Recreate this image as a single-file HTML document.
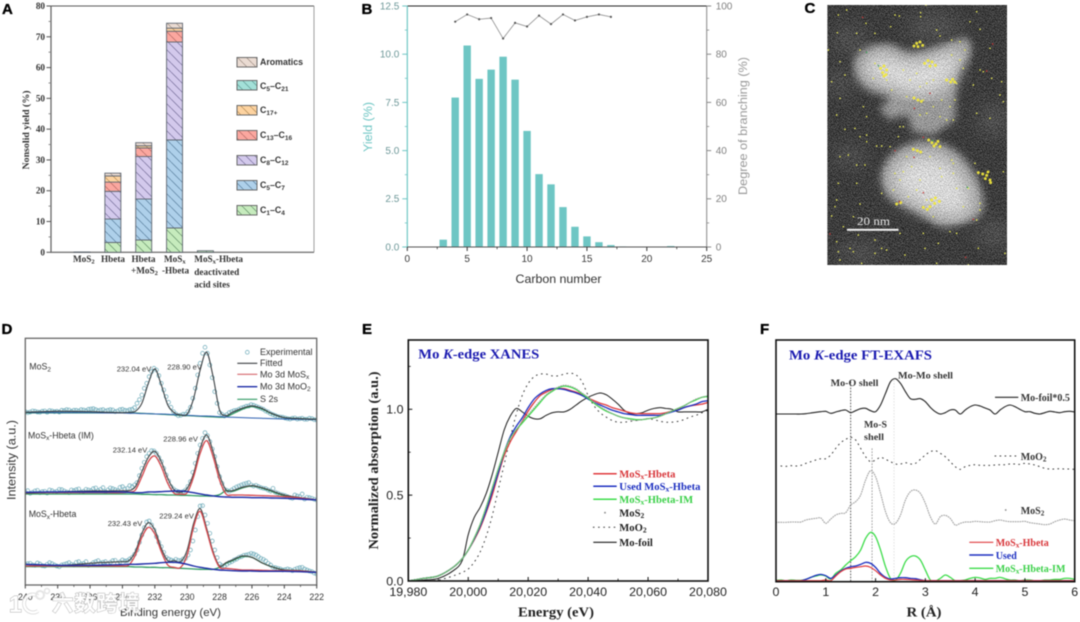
<!DOCTYPE html>
<html lang="en">
<head>
<meta charset="utf-8">
<title>MoSx-Hbeta catalyst characterisation figure</title>
<style>
  html,body{margin:0;padding:0;background:#fff;width:1080px;height:622px;overflow:hidden}
  svg{display:block}
  #art{filter:blur(.42px)}
  text{font-family:"Liberation Sans",sans-serif;fill:#222}
  .serif{font-family:"Liberation Serif",serif;font-weight:700}
  .plabel{font-size:15px;font-weight:700;fill:#000;stroke:#000;stroke-width:.35}
  .ta{font-size:9.2px;fill:#333}
  .tb{font-size:10px}
  .td{font-size:8.8px;fill:#333}
  .te{font-size:12.4px;fill:#222}
  .lgE{font-size:10.6px}
</style>
</head>
<body>
<svg id="figure" width="1080" height="622" viewBox="0 0 1080 622">
<defs>
  <pattern id="h-green" patternUnits="userSpaceOnUse" width="9" height="9"><rect width="9" height="9" fill="#c6ebbd"/><path d="M-1,-1L10,10" stroke="#4d7a55" stroke-width=".6"/></pattern>
  <pattern id="h-blue" patternUnits="userSpaceOnUse" width="9" height="9"><rect width="9" height="9" fill="#aed0ea"/><path d="M-1,-1L10,10" stroke="#466c8c" stroke-width=".6"/></pattern>
  <pattern id="h-purple" patternUnits="userSpaceOnUse" width="9" height="9"><rect width="9" height="9" fill="#d3c9ec"/><path d="M-1,-1L10,10" stroke="#5f5885" stroke-width=".6"/></pattern>
  <pattern id="h-red" patternUnits="userSpaceOnUse" width="9" height="9"><rect width="9" height="9" fill="#fba79f"/><path d="M-1,-1L10,10" stroke="#a45a55" stroke-width=".6"/></pattern>
  <pattern id="h-orange" patternUnits="userSpaceOnUse" width="9" height="9"><rect width="9" height="9" fill="#fdd3a0"/><path d="M-1,-1L10,10" stroke="#a07a45" stroke-width=".6"/></pattern>
  <pattern id="h-teal" patternUnits="userSpaceOnUse" width="9" height="9"><rect width="9" height="9" fill="#a3e0d8"/><path d="M-1,-1L10,10" stroke="#4d8a84" stroke-width=".6"/></pattern>
  <pattern id="h-tan" patternUnits="userSpaceOnUse" width="9" height="9"><rect width="9" height="9" fill="#eadbd2"/><path d="M-1,-1L10,10" stroke="#8a7a70" stroke-width=".6"/></pattern>
  <filter id="noise" x="0" y="0" width="100%" height="100%"><feTurbulence type="fractalNoise" baseFrequency="1.1" numOctaves="2" seed="7"/><feColorMatrix values="4 0 0 0 -1.7 4 0 0 0 -1.7 4 0 0 0 -1.7 0 0 0 0 .3"/></filter>
  <filter id="blur9"><feGaussianBlur stdDeviation="12"/></filter>
  <filter id="blur30"><feGaussianBlur stdDeviation="26"/></filter>
  <clipPath id="clipC"><rect x="827.3" y="5" width="179.7" height="260"/></clipPath>
  <clipPath id="clipE"><rect x="408.3" y="340" width="299.7" height="241"/></clipPath>
  <clipPath id="clipF"><rect x="776" y="340" width="298.7" height="241.7"/></clipPath>
  <clipPath id="clipD"><rect x="25.3" y="338.3" width="291.4" height="246.7"/></clipPath>
</defs>
<g id="art">

<g id="panelA">
  <text class="plabel" x="2" y="14">A</text>
  <text class="serif" font-size="9" text-anchor="middle" transform="translate(29,130) rotate(-90)" textLength="79" lengthAdjust="spacingAndGlyphs" style="fill:#333">Nonsolid yield (%)</text>
  <g class="serif">
    <text class="serif ta" x="73" y="262">MoS<tspan dy="1.5" font-size="6.5">2</tspan></text>
    <text class="serif ta" x="101" y="262">Hbeta</text>
    <text class="serif ta" x="131.5" y="262">Hbeta</text>
    <text class="serif ta" x="131" y="273.5">+MoS<tspan dy="1.5" font-size="6.5">2</tspan></text>
    <text class="serif ta" x="164" y="262">MoS<tspan dy="1.5" font-size="6.5">x</tspan></text>
    <text class="serif ta" x="162" y="273.5">-Hbeta</text>
    <text class="serif ta" x="194.3" y="262">MoS<tspan dy="1.5" font-size="6.5">x</tspan><tspan dy="-1.5">-Hbeta</tspan></text>
    <text class="serif ta" x="194.3" y="275">deactivated</text>
    <text class="serif ta" x="194.3" y="287.5">acid sites</text>
  </g>
  <g>
    <rect x="237" y="57.5" width="20" height="9.5" fill="url(#h-tan)" stroke="#6a6a6a"/>
    <text x="260" y="65" font-size="8.8" font-weight="700" style="fill:#333">Aromatics</text>
    <rect x="237" y="80.5" width="20" height="9.5" fill="url(#h-teal)" stroke="#6a6a6a"/>
    <text x="260" y="89" font-size="8.8" font-weight="700" style="fill:#333">C<tspan dy="2" font-size="6.5">5</tspan><tspan dy="-2">–C</tspan><tspan dy="2" font-size="6.5">21</tspan></text>
    <rect x="237" y="105.5" width="20" height="9.5" fill="url(#h-orange)" stroke="#6a6a6a"/>
    <text x="260" y="113" font-size="8.8" font-weight="700" style="fill:#333">C<tspan dy="2" font-size="6.5">17+</tspan></text>
    <rect x="237" y="130.5" width="20" height="9.5" fill="url(#h-red)" stroke="#6a6a6a"/>
    <text x="260" y="138" font-size="8.8" font-weight="700" style="fill:#333">C<tspan dy="2" font-size="6.5">13</tspan><tspan dy="-2">–C</tspan><tspan dy="2" font-size="6.5">16</tspan></text>
    <rect x="237" y="155.5" width="20" height="9.5" fill="url(#h-purple)" stroke="#6a6a6a"/>
    <text x="260" y="163" font-size="8.8" font-weight="700" style="fill:#333">C<tspan dy="2" font-size="6.5">8</tspan><tspan dy="-2">–C</tspan><tspan dy="2" font-size="6.5">12</tspan></text>
    <rect x="237" y="180.5" width="20" height="9.5" fill="url(#h-blue)" stroke="#6a6a6a"/>
    <text x="260" y="188" font-size="8.8" font-weight="700" style="fill:#333">C<tspan dy="2" font-size="6.5">5</tspan><tspan dy="-2">–C</tspan><tspan dy="2" font-size="6.5">7</tspan></text>
    <rect x="237" y="205.5" width="20" height="9.5" fill="url(#h-green)" stroke="#6a6a6a"/>
    <text x="260" y="213" font-size="8.8" font-weight="700" style="fill:#333">C<tspan dy="2" font-size="6.5">1</tspan><tspan dy="-2">–C</tspan><tspan dy="2" font-size="6.5">4</tspan></text>
  </g>
</g>

<g id="panelB">
  <text class="plabel" x="361.5" y="14">B</text>
  <text x="558.5" y="283" font-size="12.2" text-anchor="middle" textLength="86" lengthAdjust="spacingAndGlyphs" style="fill:#333">Carbon number</text>
  <text font-size="12.4" text-anchor="middle" transform="translate(372,127) rotate(-90)" textLength="50" lengthAdjust="spacingAndGlyphs" style="fill:#6fc6c4">Yield (%)</text>
  <text font-size="12.4" text-anchor="middle" transform="translate(747,126) rotate(-90)" textLength="138" lengthAdjust="spacingAndGlyphs" style="fill:#9a9a9a">Degree of branching (%)</text>
</g>

<g id="panelC">
  <text class="plabel" x="804.5" y="13">C</text>
  <g clip-path="url(#clipC)">
    <rect x="827.3" y="5" width="179.7" height="260" fill="#1f1f1f"/>
    <g transform="translate(760,0) scale(.33333)">
      <g filter="url(#blur30)" fill="#3c3c3c">
        <ellipse cx="270" cy="470" rx="50" ry="30"/><ellipse cx="240" cy="250" rx="40" ry="35"/><ellipse cx="700" cy="360" rx="45" ry="50"/><ellipse cx="520" cy="80" rx="80" ry="40"/><ellipse cx="700" cy="700" rx="50" ry="40"/><ellipse cx="300" cy="760" rx="70" ry="30"/><ellipse cx="270" cy="120" rx="50" ry="40"/>
      </g>
      <path filter="url(#blur9)" fill="#a2a2a2" d="M282,190C288,150 350,125 395,135C420,145 432,160 450,160C500,160 560,130 615,110C645,130 640,175 600,205L590,250L585,360L520,405L455,395L445,345L385,358L358,325L395,290L325,270C300,250 280,225 282,190Z"/>
      <path filter="url(#blur9)" fill="#a6a6a6" d="M362,530C368,480 410,440 470,422C540,412 600,450 635,510C668,560 682,610 664,642C620,672 570,688 530,678C490,640 420,620 385,592C370,570 360,550 362,530Z"/>
      <path filter="url(#blur30)" fill="#fdfdfd" d="M305,195C330,150 400,150 430,185C480,180 550,165 605,140C615,190 580,250 540,275C500,295 450,290 410,270C370,260 305,240 305,195Z"/>
      <path filter="url(#blur30)" fill="#fdfdfd" d="M395,520C420,470 500,440 565,480C620,530 655,600 620,650C570,660 520,640 480,620C440,600 385,570 395,520Z"/>
    </g>
    <rect x="827.3" y="5" width="179.7" height="260" filter="url(#noise)"/>
    <g transform="translate(760,0) scale(.33333)">
      <path fill="none" stroke="#e9e956" stroke-width="5" stroke-linecap="round" d="M235,45h0M260,30h0M318,70h0M345,100h0M290,100h0M232,98h0M205,150h0M240,185h0M392,80h0M405,45h0M418,48h0M482,38h0M482,50h0M498,15h0M530,90h0M540,108h0M650,35h0M630,65h0M660,88h0M690,145h0M670,215h0M660,210h0M695,235h0M725,245h0M720,285h0M730,305h0M650,340h0M690,355h0M590,250h0M640,255h0M610,205h0M300,150h0M340,235h0M215,245h0M255,225h0M240,295h0M230,345h0M310,320h0M320,350h0M255,388h0M285,385h0M300,410h0M320,405h0M320,425h0M350,438h0M365,438h0M390,440h0M430,380h0M415,410h0M420,380h0M240,470h0M265,465h0M290,495h0M315,495h0M235,550h0M290,550h0M365,580h0M230,600h0M300,612h0M225,620h0M215,648h0M250,680h0M280,650h0M295,705h0M230,725h0M345,720h0M235,755h0M240,780h0M270,745h0M280,755h0M365,745h0M380,750h0M305,790h0M345,760h0M420,700h0M435,765h0M490,700h0M495,745h0M535,730h0M570,695h0M590,700h0M530,790h0M625,795h0M655,745h0M735,760h0M650,660h0M730,515h0M645,490h0M580,520h0M405,520h0M430,515h0M400,570h0M470,570h0M500,600h0M540,505h0M580,490h0M590,565h0M625,565h0M660,610h0M660,630h0M345,190h0M380,240h0M395,270h0M430,210h0M450,240h0M470,220h0M500,250h0M520,240h0M480,260h0M440,290h0M490,300h0M520,320h0M545,300h0M570,320h0M585,300h0M540,350h0M500,340h0M480,345h0M560,360h0M580,360h0M575,120h0M600,125h0M615,150h0M575,165h0M600,180h0M440,470h0M455,500h0M510,470h0M575,480h0M545,530h0M480,540h0M420,540h0M445,590h0M520,650h0M610,620h0"/>
      <path fill="none" stroke="#f2e83c" stroke-width="9" stroke-linecap="round" opacity=".92" d="M362,205h0M372,198h0M380,210h0M368,218h0M378,224h0M372,228h0M462,138h0M470,130h0M480,126h0M488,136h0M474,140h0M494,190h0M504,182h0M516,186h0M526,196h0M510,198h0M560,240h0M572,246h0M584,246h0M578,238h0M462,294h0M474,300h0M484,304h0M506,420h0M516,428h0M528,432h0M540,440h0M522,438h0M534,424h0M460,448h0M472,452h0M482,456h0M655,518h0M668,522h0M680,526h0M690,540h0M676,536h0M684,516h0M692,548h0M515,600h0M526,594h0M538,604h0M524,610h0M490,622h0M502,628h0M510,620h0M410,612h0M422,608h0"/>
      <path fill="none" stroke="#c23a3a" stroke-width="5" stroke-linecap="round" d="M308,52h0M698,132h0M680,213h0M510,280h0M463,325h0M490,412h0M405,452h0M462,472h0M490,578h0M418,605h0M640,658h0M617,772h0M210,702h0"/>
      <path fill="none" stroke="#3fa05a" stroke-width="5" stroke-linecap="round" d="M320,157h0M355,197h0M622,562h0M518,422h0"/>
    </g>
  </g>
  <rect x="847" y="228.8" width="51.5" height="2" fill="#f2f2f2"/>
  <text class="serif" x="857" y="225" font-size="11.5" style="font-weight:400;fill:#e4e4e4" textLength="33" lengthAdjust="spacingAndGlyphs">20 nm</text>
</g>

<g id="panelD">
  <text class="plabel" x="1.5" y="334">D</text>
  <text font-size="12.4" text-anchor="middle" transform="translate(15.5,460) rotate(-90)" textLength="80" lengthAdjust="spacingAndGlyphs" style="fill:#333">Intensity (a.u.)</text>
  <text x="170.5" y="616" font-size="11.4" text-anchor="middle" textLength="101" lengthAdjust="spacingAndGlyphs" style="fill:#333">Binding energy (eV)</text>
</g>

<g id="panelE">
  <text class="plabel" x="362" y="334">E</text>
  <text class="serif" x="556" y="616.5" font-size="13.5" text-anchor="middle" textLength="76" lengthAdjust="spacingAndGlyphs">Energy (eV)</text>
  <text class="serif" font-size="13.5" text-anchor="middle" transform="translate(378,460.5) rotate(-90)" textLength="178" lengthAdjust="spacingAndGlyphs">Normalized absorption (a.u.)</text>
</g>

<g id="panelF">
  <text class="plabel" x="760" y="334">F</text>
  <text class="serif" x="924" y="616.5" font-size="13.5" text-anchor="middle" textLength="35" lengthAdjust="spacingAndGlyphs">R (Å)</text>
</g>

<g id="watermark" opacity=".95">
  <text x="9" y="612" font-size="23" font-weight="700" style="fill:#fff;stroke:#a8a8a8;stroke-width:.9;paint-order:stroke">1</text>
  <path d="M38,596A9,9 0 1 0 38,611" fill="none" stroke="#c0c0c0" stroke-width="3.6"/>
  <path d="M38,596A9,9 0 1 0 38,611" fill="none" stroke="#fff" stroke-width="2.6"/>
  <circle cx="40" cy="595" r="4" fill="none" stroke="#e4e4e4" stroke-width="2"/>
  <circle cx="47" cy="591" r="2.5" fill="none" stroke="#e4e4e4" stroke-width="1.5"/>
  <text x="52" y="611" font-size="21.5" textLength="88" style="font-family:'Liberation Sans','Noto Sans CJK SC',sans-serif;font-weight:700;fill:#fff;stroke:#a8a8a8;stroke-width:.9;paint-order:stroke">六数跨境</text>
</g>
</g>
</svg>

<script>
/* ---------- Panel A data ---------- */
const aCategories = ["MoS2","Hbeta","Hbeta+MoS2","MoSx-Hbeta","MoSx-Hbeta deactivated"];
const aTicks = [0,10,20,30,40,50,60,70,80];
const aC1C4 = [0.1,3.2,4.0,7.9,0.5];
const aC5C7 = [0,7.6,13.3,28.6,0];
const aC8C12 = [0,9.0,13.8,31.8,0];
const aC13C16 = [0,3.0,2.8,3.5,0];
const aC17 = [0,2.0,0.7,1.0,0];
const aC5C21 = [0,0,0,0,0];
const aAromatics = [0,0.9,1.0,1.6,0];

/* ---------- Panel B data ---------- */
const bCarbon = [3,4,5,6,7,8,9,10,11,12,13,14,15,16,17,18,22];
const bYield = [0.38,7.75,10.45,8.72,9.2,9.87,8.68,6.02,3.78,3.25,2.07,1.05,0.55,0.25,0.1,0.03,0.05];
const bBranchCarbon = [4,5,6,7,8,9,10,11,12,13,14,15,16,17];
const bBranching = [93.5,96.5,94.5,95,86.5,93,91.5,96,92.5,96.5,94,95.5,96.5,95.5];
const bXTicks = [0,5,10,15,20,25];
const bYTicks = ["0.0","2.5","5.0","7.5","10.0","12.5"];
const bRightTicks = [0,20,40,60,80,100];

/* ---------- Panel D data (arbitrary intensity units) ---------- */
const dEnergy = [240,238,236,235,234,233.6,233.2,232.8,232.4,232,231.6,231.2,230.8,230.4,230,229.6,229.2,228.8,228.4,228,227.6,227.2,226.6,226,225.4,224.8,224,223,222];
const dTicks = [240,238,236,234,232,230,228,226,224,222];
const d1Fit = [518,521,520,518,517,518,521,545,605,648,600,540,517,510,513,560,645,698,625,525,508,518,530,537,530,515,502,499,497];
const d1Green = [516,516,516,516,516,516,516,515,514,513,512,511,510,509,508,507,506,505,504,503,504,513,527,535,528,514,502,499,497];
const d1Blue = [517,517,517,516,516,515,515,514,514,513,513,512,511,510,509,508,507,507,506,505,504,503,502,501,500,499,498,497,496];
const d2Fit = [275,279,282,282,283,283,295,340,383,401,370,320,285,278,290,335,410,450,400,330,285,283,293,298,292,283,270,262,255];
const d2Red = [277,277,277,277,277,279,285,325,370,387,355,305,275,273,277,325,395,433,385,315,273,270,270,269,268,267,265,261,255];
const d2Blue = [278,279,279,279,279,278,277,277,279,279,280,281,282,282,280,277,273,270,267,265,264,263,263,262,262,261,260,258,255];
const d2Green = [273,273,273,273,273,273,273,272,272,271,271,270,270,269,269,268,267,267,267,271,283,281,291,297,291,281,268,260,255];
const d3Fit = [62,58,65,68,70,73,100,155,187,165,110,73,73,70,105,185,229,170,100,57,67,75,87,83,67,55,45,43,38];
const d3Red = [57,57,57,57,57,60,90,143,173,153,100,60,53,53,90,175,221,163,95,53,50,48,45,45,44,43,43,42,38];
const d3Blue = [62,59,59,60,61,62,62,63,64,65,67,68,68,66,62,57,53,50,47,45,44,43,42,42,41,41,41,40,38];
const d3Green = [55,55,55,55,55,55,54,54,53,53,52,52,51,50,49,48,47,47,47,53,65,73,85,83,67,55,45,43,38];
const d1Exp = [520,519,521,518,522,523,520,519,523,525,524,522,525,527,529,523,526,524,525,522,527,523,527,545,570,605,640,645,605,565,533,513,509,512,533,590,665,713,660,580,517,507,517,523,527,533,537,539,533,527,519,511,505,503,499,500,498,500,497,499,495];
const d2Exp = [279,275,282,277,281,285,279,287,282,277,283,288,281,285,289,283,292,285,289,283,295,290,295,307,350,385,403,395,370,330,295,283,277,285,310,365,420,457,430,385,325,287,281,290,297,303,307,297,295,290,285,290,275,270,265,260,267,273,263,260,255];
const d3Exp = [62,65,59,63,57,67,60,55,62,67,60,70,65,59,67,73,68,63,73,65,75,73,83,105,150,189,180,145,115,83,75,77,73,80,105,165,237,210,155,105,63,57,67,75,83,89,92,93,85,77,65,53,50,45,48,43,50,53,45,40,33];
const d1ExpMid = [517,522,519,521,518,522,521,524,526,521,524,526,523,528,526,525,522,526,520,526,524,526,532,556,590,625,650,628,585,548,520,508,512,520,560,630,695,695,622,545,512,511,520,524,531,536,541,536,530,522,514,508,504,501,498,501,499,497,500,496];
const d2ExpMid = [283,278,284,280,276,283,281,286,279,285,286,279,287,283,291,287,280,291,286,293,288,298,300,328,368,395,402,382,350,312,288,280,280,296,338,395,440,448,408,355,305,284,285,294,300,305,300,299,292,289,282,278,272,268,262,270,265,258,262,257];
const d3ExpMid = [64,60,66,58,62,64,57,60,64,62,68,63,70,62,70,66,70,68,74,69,72,78,92,128,172,192,165,128,98,78,72,74,78,90,132,205,238,185,132,82,58,62,70,78,85,90,95,90,80,72,60,52,48,46,46,47,52,48,42,36];

/* ---------- Panel E data ---------- */
const eEnergy = [19980,19985,19990,19995,19998,20000,20002,20004,20006,20008,20010,20012,20014,20016,20018,20020,20022,20024,20026,20028,20030,20032,20034,20036,20038,20040,20042,20044,20046,20048,20050,20052,20054,20056,20058,20060,20062,20064,20066,20068,20070,20072,20074,20076,20078,20080];
const eXTicks = ["19,980","20,000","20,020","20,040","20,060","20,080"];
const eYTicks = ["0.0","0.5","1.0"];
const eRed = [0,.015,.03,.08,.13,.18,.24,.31,.40,.50,.62,.73,.81,.87,.93,.99,1.04,1.08,1.10,1.115,1.12,1.12,1.11,1.10,1.085,1.065,1.05,1.035,1.025,1.01,1.0,.99,.98,.975,.975,.975,.975,.975,.98,.99,1.0,1.01,1.02,1.025,1.03,1.04];
const eBlue = [0,.015,.03,.08,.13,.18,.245,.32,.41,.52,.63,.75,.84,.90,.95,1.01,1.06,1.09,1.11,1.12,1.12,1.115,1.105,1.095,1.08,1.06,1.04,1.025,1.01,.995,.985,.975,.97,.965,.965,.965,.965,.965,.975,.985,.995,1.01,1.02,1.03,1.045,1.05];
const eGreen = [0,.015,.03,.08,.13,.18,.25,.33,.43,.54,.65,.75,.83,.88,.92,.96,1.0,1.04,1.08,1.105,1.125,1.135,1.13,1.115,1.09,1.065,1.035,1.01,.99,.975,.96,.95,.945,.94,.94,.945,.95,.96,.975,.99,1.005,1.02,1.04,1.055,1.07,1.075];
const eMoS2 = [0,.015,.03,.08,.13,.18,.25,.33,.43,.54,.65,.75,.83,.88,.93,.97,1.01,1.05,1.085,1.11,1.13,1.14,1.135,1.12,1.095,1.07,1.04,1.015,.995,.975,.96,.95,.94,.935,.94,.945,.95,.96,.975,.99,1.005,1.02,1.04,1.06,1.07,1.08];
const eMoO2 = [0,0,.005,.03,.05,.07,.11,.17,.26,.38,.53,.68,.83,.97,1.08,1.15,1.19,1.205,1.205,1.195,1.195,1.205,1.21,1.2,1.16,1.08,1.02,.98,.955,.935,.925,.925,.93,.935,.94,.945,.94,.93,.925,.925,.93,.94,.955,.965,.98,.995];
const eFoil = [0,.005,.015,.06,.12,.27,.37,.43,.51,.62,.75,.88,.96,1.005,.985,.96,.945,.945,.965,.98,.985,.985,1.0,1.025,1.05,1.07,1.085,1.095,1.085,1.06,1.03,.995,.975,.975,.98,.995,1.005,1.01,1.005,1.0,.985,.985,.985,.985,.985,1.0];

/* ---------- Panel F data (arbitrary units) ---------- */
const fR = [0,.1,.2,.3,.4,.5,.6,.7,.8,.9,1,1.1,1.2,1.3,1.4,1.5,1.6,1.7,1.8,1.9,2,2.1,2.2,2.3,2.4,2.5,2.6,2.7,2.8,2.9,3,3.1,3.2,3.3,3.4,3.5,3.6,3.7,3.8,3.9,4,4.1,4.2,4.3,4.4,4.5,4.6,4.7,4.8,4.9,5,5.1,5.2,5.3,5.4,5.5,5.6,5.7,5.8,5.9,6];
const fTicks = [0,1,2,3,4,5,6];
const fFoil = [503,503,503,503,503,503,504,506,508,510,511,505,509,513,515,507,513,519,520,513,510,530,565,600,609,595,570,549,547,549,540,523,510,503,507,515,515,503,515,525,530,527,521,515,503,515,525,530,525,517,510,510,505,503,507,511,509,507,510,511,509];
const fMoO2 = [347,347,346,348,347,349,355,360,365,369,369,380,400,417,427,433,425,400,375,360,365,373,367,360,353,353,357,353,355,367,380,390,393,385,375,360,345,337,345,349,351,349,349,349,350,351,351,353,353,352,355,353,350,345,340,338,338,339,338,338,337];
const fMoS2 = [178,178,178,179,179,179,185,188,190,191,175,188,200,205,207,230,240,260,305,333,315,265,210,177,175,200,245,270,275,265,235,195,173,195,199,190,170,175,179,179,181,180,179,179,183,185,182,180,180,180,181,177,175,173,171,173,180,185,188,185,183];
const fGreen = [4,5,3,5,4,4,7,13,17,20,17,8,25,35,50,63,75,95,130,148,135,95,45,10,5,25,60,75,77,65,35,5,2,10,20,13,3,3,5,10,13,11,7,10,10,13,9,5,5,3,5,5,3,3,5,5,7,7,10,10,7];
const fBlue = [3,3,3,3,3,3,7,13,19,22,18,10,20,32,40,45,47,52,58,55,43,25,13,8,10,12,12,10,9,6,3,3,3,3,3,3,3,3,3,3,3,3,3,3,3,3,3,3,3,3,3,3,3,3,3,3,3,3,3,3,3];
const fRed = [3,3,3,3,3,3,3,3,3,3,5,3,17,30,38,40,43,45,47,43,33,20,10,5,5,7,7,6,5,4,3,3,3,3,3,3,3,3,3,3,3,3,3,3,3,3,3,3,3,3,3,3,3,3,3,3,3,3,3,3,3];

/* ---------- helpers ---------- */
const svg = document.getElementById('figure');
const NS = svg.namespaceURI;
function make(tag, attrs, parent){
  const n = document.createElementNS(NS, tag);
  for (const k in attrs) n.setAttribute(k, attrs[k]);
  parent.appendChild(n);
  return n;
}
function seg(parent, x1, y1, x2, y2, stroke, w, name){
  const l = make('line', {x1:x1, y1:y1, x2:x2, y2:y2, stroke:stroke, 'stroke-width':w}, parent);
  
  
  return l;
}
function label(parent, x, y, str, anchor, cls, fill, name){
  const t = make('text', {x:x, y:y, 'text-anchor':anchor, 'class':cls}, parent);
  if (fill) t.style.fill = fill;
  t.textContent = str;
  
  
  return t;
}
function smooth(xs, ys, fx, fy){
  let d = '';
  const p = xs.map((x,i)=>[fx(x), fy(ys[i])]);
  for (let i=0;i<p.length;i++){
    if (i===0){ d += 'M'+p[0][0].toFixed(2)+','+p[0][1].toFixed(2); continue; }
    const a=p[Math.max(i-2,0)], b=p[i-1], c=p[i], e=p[Math.min(i+1,p.length-1)];
    const c1x=b[0]+(c[0]-a[0])/6, c1y=b[1]+(c[1]-a[1])/6, c2x=c[0]-(e[0]-b[0])/6, c2y=c[1]-(e[1]-b[1])/6;
    d += 'C'+c1x.toFixed(2)+','+c1y.toFixed(2)+' '+c2x.toFixed(2)+','+c2y.toFixed(2)+' '+c[0].toFixed(2)+','+c[1].toFixed(2);
  }
  return d;
}
function curve(parent, xs, ys, fx, fy, stroke, w, dash, name){
  const a = {d:smooth(xs,ys,fx,fy), fill:'none', stroke:stroke, 'stroke-width':w, 'stroke-linejoin':'round'};
  if (dash){ a['stroke-dasharray']=dash; a['stroke-linecap']='round'; }
  const c = make('path', a, parent);
  
  
  return c;
}

/* ---------- Panel A ---------- */
(function(){
  const g = document.getElementById('panelA');
  const L=51, R=314, T=6, B=252.3;
  const x = i => 82 + 30.85*i;
  const y = v => B - v*(B-T)/80;
  seg(g,L,T,R,T,'#222',.8,'plot-top-border');
  seg(g,R,T,R,B,'#888',.8,'plot-right-border');
  seg(g,L,T,L,B+.6,'#666',1.3,'y-axis-line');
  seg(g,L,B,R,B,'#777',1.3,'x-axis-line');
  aTicks.forEach(v=>{
    seg(g,L-4.5,y(v),L,y(v),'#555',1,'y-major-tick');
    label(g,L-6,y(v)+3,String(v),'end','serif ta',null,'y-tick-label');
    if (v<80) seg(g,L-2.5,y(v+5),L,y(v+5),'#777',.8,'y-minor-tick');
  });
  const stacks = [
    [aC1C4,'url(#h-green)','c1-c4'],[aC5C7,'url(#h-blue)','c5-c7'],[aC8C12,'url(#h-purple)','c8-c12'],
    [aC13C16,'url(#h-red)','c13-c16'],[aC17,'url(#h-orange)','c17'],[aC5C21,'url(#h-teal)','c5-c21'],[aAromatics,'url(#h-tan)','aromatics']
  ];
  aCategories.forEach((cat,i)=>{
    let base = 0;
    stacks.forEach(s=>{
      const v = s[0][i];
      if (v<=0) return;
      const r = make('rect',{x:x(i)-8,y:y(base+v),width:16,height:y(base)-y(base+v),fill:s[1],stroke:'#5f6670','stroke-width':.9},g);
      
      
      base += v;
    });
  });
})();

/* ---------- Panel B ---------- */
(function(){
  const g = document.getElementById('panelB');
  const L=407.3, R=706.7, T=6, B=247;
  const x = v => L + v*(R-L)/25;
  const y = v => B - v*(B-T)/12.5;
  const y2 = v => B - v*(B-T)/100;
  bCarbon.forEach((c,i)=>{
    const r = make('rect',{x:x(c)-3.7,y:y(bYield[i]),width:7.4,height:B-y(bYield[i]),fill:'#6ec6c4'},g);
    
    
  });
  seg(g,L,T,R,T,'#222',.9,'plot-top-border');
  seg(g,L,T,L,B,'#6fc6c4',1.2,'y-axis-line-left');
  seg(g,R,T,R,B,'#888',1,'y-axis-line-right');
  seg(g,L,B,R,B,'#555',1.1,'x-axis-line');
  bYTicks.forEach(s=>{
    const v = parseFloat(s);
    seg(g,L-5,y(v),L,y(v),'#6fc6c4',1,'y-major-tick-left');
    label(g,L-8,y(v)+3.4,s,'end','tb','#6e9899','y-tick-label-left');
    if (v<12.5) seg(g,L-2.5,y(v+1.25),L,y(v+1.25),'#6fc6c4',.8,'y-minor-tick-left');
  });
  bRightTicks.forEach(v=>{
    seg(g,R,y2(v),R+4.5,y2(v),'#888',1,'y-major-tick-right');
    label(g,R+9,y2(v)+3.4,String(v),'start','tb','#808080','y-tick-label-right');
    if (v<100) seg(g,R,y2(v+10),R+2.5,y2(v+10),'#888',.8,'y-minor-tick-right');
  });
  bXTicks.forEach(v=>{
    seg(g,x(v),B,x(v),B+4,'#333',1,'x-major-tick');
    label(g,x(v),B+15,String(v),'middle','tb','#3a3a3a','x-tick-label');
    if (v<25) seg(g,x(v+2.5),B,x(v+2.5),B+2.2,'#333',.8,'x-minor-tick');
  });
  const pts = bBranchCarbon.map((c,i)=>x(c).toFixed(2)+','+y2(bBranching[i]).toFixed(2)).join(' ');
  const pl = make('polyline',{points:pts,fill:'none',stroke:'#8c8c8c','stroke-width':.8},g);
  
  
  bBranchCarbon.forEach((c,i)=>{
    const p = make('circle',{cx:x(c),cy:y2(bBranching[i]),r:1.1,fill:'#555'},g);
    
    
  });
})();

/* ---------- Panel D ---------- */
(function(){
  const g = document.getElementById('panelD');
  const L=25.3, R=316.7, T=338.3, B=585;
  const x = v => L + (240-v)*(R-L)/18;
  const y = v => B - v*(B-T)/740;
  const plot = make('g',{'clip-path':'url(#clipD)'},g);
  
  
  [[d1Exp,'mos2',240],[d2Exp,'mosx-hbeta-im',240],[d3Exp,'mosx-hbeta',240],[d1ExpMid,'mos2',239.85],[d2ExpMid,'mosx-hbeta-im',239.85],[d3ExpMid,'mosx-hbeta',239.85]].forEach(s=>{
    s[0].forEach((v,i)=>{
      const c = make('circle',{cx:x(s[2]-0.3*i),cy:y(v),r:1.9,fill:'none',stroke:'#6aa9b8','stroke-width':.7},plot);
      
      
    });
  });
  curve(plot,dEnergy,d1Green,x,y,'#2f9a62',1.1,null,'s2s-curve-mos2');
  curve(plot,dEnergy,d1Blue,x,y,'#2c5fb0',1,null,'moo2-curve-mos2');
  curve(plot,dEnergy,d1Fit,x,y,'#3a3f42',1.1,null,'fitted-curve-mos2');
  curve(plot,dEnergy,d2Green,x,y,'#2f9a62',1.3,null,'s2s-curve-im');
  curve(plot,dEnergy,d2Fit,x,y,'#444',1.1,null,'fitted-curve-im');
  curve(plot,dEnergy,d2Red,x,y,'#d6474c',1.3,null,'mos2-curve-im');
  curve(plot,dEnergy,d2Blue,x,y,'#1a2aa6',1.4,null,'moo2-curve-im');
  curve(plot,dEnergy,d3Green,x,y,'#2f9a62',1.3,null,'s2s-curve-hbeta');
  curve(plot,dEnergy,d3Fit,x,y,'#444',1.1,null,'fitted-curve-hbeta');
  curve(plot,dEnergy,d3Red,x,y,'#d6474c',1.3,null,'mos2-curve-hbeta');
  curve(plot,dEnergy,d3Blue,x,y,'#1a2aa6',1.4,null,'moo2-curve-hbeta');
  const box = make('rect',{x:L,y:T,width:R-L,height:B-T,fill:'none',stroke:'#666','stroke-width':1.3},g);
  
  
  dTicks.forEach(v=>{
    seg(g,x(v),B,x(v),B+3.5,'#444',1,'x-major-tick');
    label(g,x(v),600,String(v),'middle','td',null,'x-tick-label');
    if (v>222) seg(g,x(v-1),B,x(v-1),B+2,'#555',.8,'x-minor-tick');
  });
  const sty = (t,s)=>{ t.style.fontSize = s+'px'; t.style.fill='#333'; return t; };
  const notes = [
    [116.7,371.7,'232.04 eV','peak-label-232-04'],[167.3,369.3,'228.90 eV','peak-label-228-90'],
    [112.7,452.7,'232.14 eV','peak-label-232-14'],[163.3,441.7,'228.96 eV','peak-label-228-96'],
    [107.7,526,'232.43 eV','peak-label-232-43'],[159.3,518.3,'229.24 eV','peak-label-229-24']
  ];
  notes.forEach(n=>{ sty(label(g,n[0],n[1],n[2],'start','',null,n[3]),7.6); });
  const mk = (x0,y0,base,sub,tail,name,fs,sz)=>{
    const t = label(g,x0,y0,base,'start','',null,name);
    sty(t,fs);
    const s = make('tspan',{dy:1.8,'font-size':sz},t); s.textContent = sub;
    if (tail){ const e = make('tspan',{dy:-1.8},t); e.textContent = tail; }
    return t;
  };
  mk(29.3,369.5,'MoS','2','','spectrum-label-mos2',8.8,6.4);
  mk(28,438.3,'MoS','x','-Hbeta (IM)','spectrum-label-mosx-hbeta-im',8.8,6.4);
  mk(28.7,517,'MoS','x','-Hbeta','spectrum-label-mosx-hbeta',8.8,6.4);
  /* legend */
  const ec = make('circle',{cx:247.3,cy:352.3,r:1.9,fill:'none',stroke:'#6aa9b8','stroke-width':.7},g);
  
  
  sty(label(g,260,355,'Experimental','start','',null,'legend-experimental'),9);
  seg(g,237.3,363.3,257.3,363.3,'#3a3f42',1.2,'legend-line-fitted');
  sty(label(g,260,366,'Fitted','start','',null,'legend-fitted'),9);
  seg(g,237.3,374.3,257.3,374.3,'#d6676c',1.2,'legend-line-mos2');
  mk(260,377.3,'Mo 3d MoS','x','','legend-mo3d-mosx',9,6.5);
  seg(g,237.3,386.7,257.3,386.7,'#1a2aa6',1.3,'legend-line-moo2');
  mk(260,389.3,'Mo 3d MoO','2','','legend-mo3d-moo2',9,6.5);
  seg(g,237.3,399.3,257.3,399.3,'#2f9a62',1.2,'legend-line-s2s');
  sty(label(g,260,402,'S 2s','start','',null,'legend-s2s'),9);
})();

/* ---------- Panel E ---------- */
(function(){
  const g = document.getElementById('panelE');
  const L=408.3, R=708, T=340, B=581;
  const x = v => L + (v-19980)*(R-L)/100;
  const y = v => B - v*171.7;
  const plot = make('g',{'clip-path':'url(#clipE)'},g);
  
  
  curve(plot,eEnergy,eMoO2,x,y,'#333',1,'.8 4.4','moo2-curve');
  curve(plot,eEnergy,eFoil,x,y,'#1a1a1a',1,null,'mo-foil-curve');
  curve(plot,eEnergy,eRed,x,y,'#e03a3e',1.3,null,'mosx-hbeta-curve');
  curve(plot,eEnergy,eBlue,x,y,'#1c2fc0',1.3,null,'used-mosx-hbeta-curve');
  curve(plot,eEnergy,eGreen,x,y,'#3ddc4a',1.3,null,'mosx-hbeta-im-curve');
  curve(plot,eEnergy,eMoS2,x,y,'#9a9a9a',1,'.7 1.7','mos2-curve');
  const box = make('rect',{x:L,y:T,width:R-L,height:B-T,fill:'none',stroke:'#111','stroke-width':1.6},g);
  
  
  eXTicks.forEach(s=>{
    const v = parseFloat(s.replace(',',''));
    seg(g,x(v),B,x(v),B-4,'#111',1,'x-major-tick');
    label(g,x(v),596,s,'middle','te',null,'x-tick-label');
    if (v<20080) seg(g,x(v+10),B,x(v+10),B-2.4,'#111',.8,'x-minor-tick');
  });
  eYTicks.forEach(s=>{
    const v = parseFloat(s);
    seg(g,L,y(v),L+4,y(v),'#111',1,'y-major-tick');
    label(g,403.5,y(v)+4.4,s,'end','te',null,'y-tick-label');
    seg(g,L,y(v+.25),L+2.4,y(v+.25),'#111',.8,'y-minor-tick');
  });
  const t = label(g,418.3,358.7,'Mo ','start','serif',null,'chart-title');
  t.style.fontSize='14px'; t.style.fill='#1a1ab0';
  t.setAttribute('textLength','121');
  t.setAttribute('lengthAdjust','spacingAndGlyphs');
  const ti = make('tspan',{'font-style':'italic'},t); ti.textContent='K';
  const tr = make('tspan',{},t); tr.textContent='-edge XANES';
  const lg = (yy,color,base,sub,tail,name)=>{
    const l = label(g,619.3,yy+3.6,base,'start','serif lgE',color,name);
    if (sub){ const s = make('tspan',{dy:1.6,'font-size':7.5},l); s.textContent=sub; }
    if (tail){ const e = make('tspan',{dy:-1.6},l); e.textContent=tail; }
  };
  seg(g,593.3,473.7,616.7,473.7,'#e03a3e',1.5,'legend-line-mosx-hbeta');
  lg(473.7,'#d8363a','MoS','x','-Hbeta','legend-mosx-hbeta');
  seg(g,593.3,486.3,616.7,486.3,'#1c2fc0',1.5,'legend-line-used');
  lg(486.3,'#1c2fc0','Used MoS','x','-Hbeta','legend-used-mosx-hbeta');
  seg(g,593.3,499.3,616.7,499.3,'#3ddc4a',1.5,'legend-line-im');
  lg(499.3,'#3ad048','MoS','x','-Hbeta-IM','legend-mosx-hbeta-im');
  const d = make('circle',{cx:605,cy:512.7,r:.9,fill:'#888'},g);
  
  
  lg(512.7,'#222','MoS','2','','legend-mos2');
  const dl = seg(g,593.3,527.3,616.7,527.3,'#333',1,'legend-line-moo2');
  dl.setAttribute('stroke-dasharray','.8 4.4');
  dl.setAttribute('stroke-linecap','round');
  lg(527.3,'#222','MoO','2','','legend-moo2');
  seg(g,593.3,542.3,616.7,542.3,'#1a1a1a',1.1,'legend-line-foil');
  lg(542.3,'#222','Mo-foil','','','legend-mo-foil');
})();

/* ---------- Panel F ---------- */
(function(){
  const g = document.getElementById('panelF');
  const L=776, R=1074.7, T=340, B=581.7;
  const x = v => L + v*(R-L)/6;
  const y = v => B - v*(B-T)/725;
  const guide = (r,top,c,name)=>{
    const l = seg(g,x(r),y(top),x(r),B,c,.8,name);
    l.setAttribute('stroke-dasharray','1.6 1.4');
  };
  guide(1.5,600,'#333','guide-mo-o-shell');
  guide(1.93,400,'#888','guide-mo-s-shell');
  guide(2.37,605,'#ddd','guide-mo-mo-shell');
  const plot = make('g',{'clip-path':'url(#clipF)'},g);
  
  
  curve(plot,fR,fFoil,x,y,'#222',1.1,null,'mo-foil-curve');
  curve(plot,fR.slice(1),fMoO2.slice(1),x,y,'#333',1,'.8 4.2','moo2-curve');
  curve(plot,fR,fMoS2,x,y,'#a0a0a0',1.1,'.8 1.6','mos2-curve');
  curve(plot,fR,fGreen,x,y,'#3ddc4a',1.3,null,'mosx-hbeta-im-curve');
  curve(plot,fR,fBlue,x,y,'#1c2fc0',1.3,null,'used-curve');
  curve(plot,fR,fRed,x,y,'#e03a3e',1.2,null,'mosx-hbeta-curve');
  const box = make('rect',{x:L,y:T,width:R-L,height:B-T,fill:'none',stroke:'#111','stroke-width':1.6},g);
  
  
  fTicks.forEach(v=>{
    seg(g,x(v),B,x(v),B-3.5,'#111',1,'x-major-tick');
    label(g,x(v),596,String(v),'middle','te',null,'x-tick-label');
  });
  const t = label(g,789,359.3,'Mo ','start','serif',null,'chart-title');
  t.style.fontSize='14px'; t.style.fill='#1a1ab0';
  t.setAttribute('textLength','143');
  t.setAttribute('lengthAdjust','spacingAndGlyphs');
  const ti = make('tspan',{'font-style':'italic'},t); ti.textContent='K';
  const tr = make('tspan',{},t); tr.textContent='-edge FT-EXAFS';
  const note = (xx,yy,s,w,name)=>{
    const n = label(g,xx,yy,s,'start','serif',null,name);
    n.style.fontSize='9.6px'; n.style.fill='#333';
    if (w){ n.setAttribute('textLength',w); n.setAttribute('lengthAdjust','spacingAndGlyphs'); }
    return n;
  };
  note(830.7,386,'Mo-O shell',47.7,'annotation-mo-o-shell');
  note(898,378.3,'Mo-Mo shell',55,'annotation-mo-mo-shell');
  note(864,427.3,'Mo-S',23,'annotation-mo-s-line1');
  note(864,440,'shell',20,'annotation-mo-s-line2');
  const sub = (xx,yy,base,s,tail,color,name)=>{
    const n = label(g,xx,yy,base,'start','serif',color,name);
    n.style.fontSize='10px';
    const a = make('tspan',{dy:1.6,'font-size':7.2},n); a.textContent=s;
    if (tail){ const b = make('tspan',{dy:-1.6},n); b.textContent=tail; }
  };
  seg(g,995,397.3,1018.3,397.3,'#222',1.1,'legend-line-foil');
  const f = label(g,1020.7,401,'Mo-foil*0.5','start','serif','#333','legend-mo-foil');
  f.style.fontSize='10px';
  const dl = seg(g,995,456,1018.3,456,'#333',1,'legend-line-moo2');
  dl.setAttribute('stroke-dasharray','.8 4.2');
  dl.setAttribute('stroke-linecap','round');
  sub(1020.7,460,'MoO','2','','#333','legend-moo2');
  const dm = make('circle',{cx:1005.7,cy:510,r:.9,fill:'#888'},g);
  
  
  sub(1020.7,514,'MoS','2','','#333','legend-mos2');
  seg(g,969.3,542.3,993.3,542.3,'#e03a3e',1.2,'legend-line-mosx-hbeta');
  sub(995.7,546,'MoS','x','-Hbeta','#d8363a','legend-mosx-hbeta');
  seg(g,969.3,555,993.3,555,'#1c2fc0',1.4,'legend-line-used');
  const u = label(g,995.7,559,'Used','start','serif','#1c2fc0','legend-used');
  u.style.fontSize='10px';
  seg(g,969.3,568.3,993.3,568.3,'#3ddc4a',1.4,'legend-line-im');
  sub(995.7,572,'MoS','x','-Hbeta-IM','#3ad048','legend-mosx-hbeta-im');
})();
</script>
</body>
</html>
